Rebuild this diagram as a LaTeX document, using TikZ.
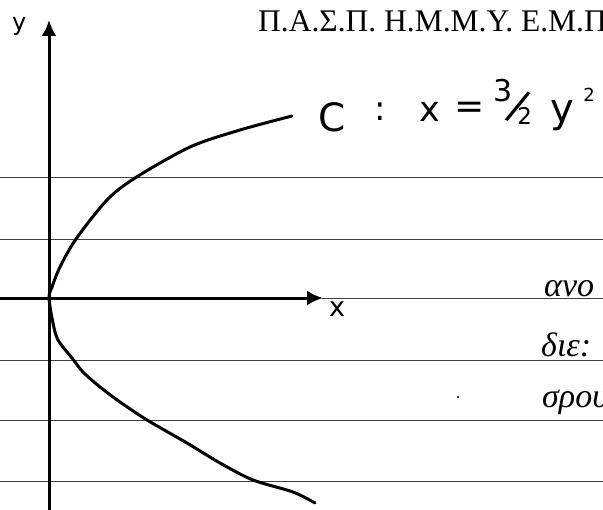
\documentclass[tikz,border=0pt]{standalone}
\usepackage{fontspec}
\setmainfont{Liberation Serif}
\newfontfamily\handfont{DejaVu Sans}
\newfontfamily\greekhand{Liberation Serif}
\usetikzlibrary{arrows.meta}
\newcommand{\fsz}[1]{\fontsize{#1}{#1}\selectfont}
\begin{document}
\begin{tikzpicture}[x=1bp,y=-1bp,
  ruled/.style={line width=1bp,draw=black!75},
  axis/.style={line width=3bp,-{Latex[length=16bp,width=15bp]}},
  curvestroke/.style={line width=3bp,line join=round,line cap=round},
  hand/.style={inner sep=0pt,font=\handfont},
  ghand/.style={inner sep=0pt,anchor=base west,font=\greekhand\itshape\fsz{34bp}}]
\useasboundingbox (0,0) rectangle (603,510);
\clip (0,0) rectangle (603,510);
% ruled notebook lines
\coordinate (L1a) at (0,178); \coordinate (L1b) at (603,178);
\coordinate (L2a) at (0,239); \coordinate (L2b) at (603,239);
\coordinate (L3a) at (322,298); \coordinate (L3b) at (603,298);
\coordinate (L4a) at (0,360); \coordinate (L4b) at (603,360);
\coordinate (L5a) at (0,420); \coordinate (L5b) at (603,420);
\coordinate (L6a) at (0,481); \coordinate (L6b) at (603,481);
\draw[ruled] (L1a) -- (L1b);
\draw[ruled] (L2a) -- (L2b);
\draw[ruled] (L3a) -- (L3b);
\draw[ruled] (L4a) -- (L4b);
\draw[ruled] (L5a) -- (L5b);
\draw[ruled] (L6a) -- (L6b);
% axes
\coordinate (ybot) at (49,512);
\coordinate (ytop) at (49,20);
\coordinate (xleft) at (-2,298);
\coordinate (xright) at (323,298);
\draw[axis] (ybot) -- (ytop);
\draw[axis] (xleft) -- (xright);
\node[hand,font=\handfont\fsz{24bp},anchor=base west] (ylab) at (12,31) {y};
\node[hand,font=\handfont\fsz{27bp},anchor=base] (xlab) at (337,316) {x};
% the curve C
\draw[curvestroke] plot[smooth,tension=0.5] coordinates {
  (292,116) (240,130) (190,147) (135,178) (107,200) (76,239) (60,267) (52,287) (49,298)
  (53,323) (58,340) (72,358) (83,372) (100,387) (120,402) (147,420) (187,443) (220,463) (253,480) (293,492) (315,503)};
% speck
\fill (458,397) circle (1.2bp);
% formula
\node[hand,font=\handfont\fsz{39bp},anchor=base west] (fC) at (318,132) {C};
\node[hand,font=\handfont\fsz{34bp},anchor=base] (fcolon) at (380,121) {:};
\node[hand,font=\handfont\fsz{35bp},anchor=base] (fx) at (430,122) {x};
\node[hand,font=\handfont\fsz{36bp}] (feq) at (470,110) {=};
\node[hand,anchor=base west] (frac) at (493,118)
  {\raisebox{16bp}{\fsz{30bp}3}\kern-7bp\raisebox{-2bp}{\rotatebox[origin=c]{-22}{\fsz{42bp}/}}\kern-14bp\raisebox{-7bp}{\fsz{23bp}2}};
\node[hand,font=\handfont\fsz{40bp},anchor=base] (fy) at (562,123) {y};
\node[hand,font=\handfont\fsz{18bp},anchor=base] (fsup) at (589,102) {2};
% header
\node[inner sep=0pt,anchor=base west,font=\fsz{31.5bp}] (hdr) at (258,32) {Π.Α.Σ.Π. Η.Μ.Μ.Υ. Ε.Μ.Π};
% handwritten notes at right
\node[ghand] (n1) at (544,296) {ανο};
\node[ghand] (n2) at (541,356) {διε:};
\node[ghand] (n3) at (542,407) {σρου};
\end{tikzpicture}
\end{document}
